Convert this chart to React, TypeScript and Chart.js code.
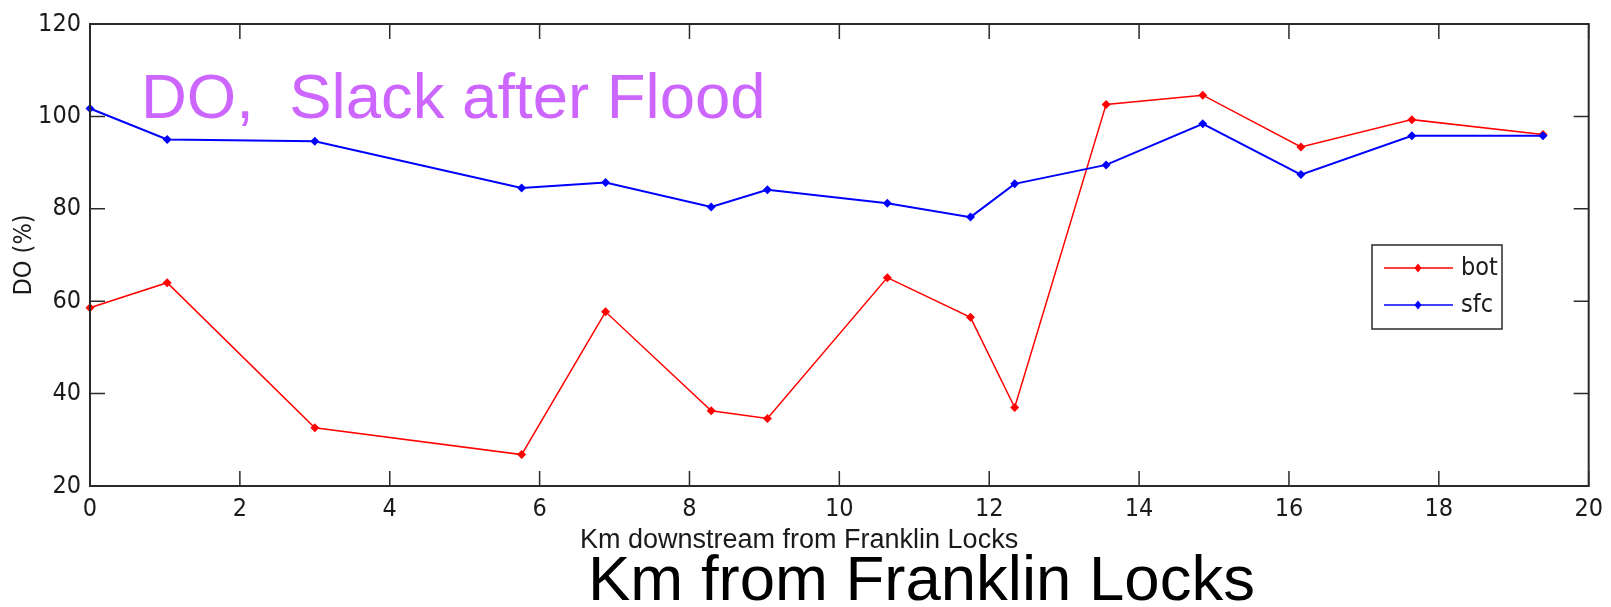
import React, { useEffect, useRef } from "react";
import { Chart, registerables } from "chart.js";

Chart.register(...registerables);

// ---- data ----
const km = [0, 1.03, 3.0, 5.76, 6.88, 8.29, 9.04, 10.64, 11.75, 12.34, 13.56, 14.85, 16.16, 17.64, 19.39];
const botDO = [58.6, 64.0, 32.6, 26.8, 57.7, 36.3, 34.6, 65.1, 56.5, 37.0, 102.6, 104.6, 93.4, 99.3, 96.1];
const sfcDO = [101.7, 95.0, 94.6, 84.5, 85.7, 80.4, 84.1, 81.2, 78.2, 85.4, 89.5, 98.4, 87.4, 95.8, 95.8];
const xTickValues = [0, 2, 4, 6, 8, 10, 12, 14, 16, 18, 20];
const yTickValues = [20, 40, 60, 80, 100, 120];
const seriesLabels = ["bot", "sfc"];
const seriesColors = ["#FF0000", "#0000FF"];
const titleText = "DO,  Slack after Flood";
const xAxisTitle = "Km downstream from Franklin Locks";
const yAxisTitle = "DO (%)";
const bigXTitle = "Km from Franklin Locks";

const NARROW = "'Liberation Sans Narrow', 'DejaVu Sans Condensed', 'Liberation Sans', sans-serif";
const SANS = "'Liberation Sans', Arial, sans-serif";
const AXIS_COLOR = "#2a2a2a";
const TEXT_COLOR = "#1a1a1a";

const decorPlugin = {
  id: "decor",
  afterDraw(chart: any) {
    const ctx: CanvasRenderingContext2D = chart.ctx;
    const { left, right, top, bottom } = chart.chartArea;
    const xs = chart.scales.x;
    const ys = chart.scales.y;
    ctx.save();

    // axes box
    ctx.strokeStyle = AXIS_COLOR;
    ctx.lineWidth = 2;
    ctx.strokeRect(left, top, right - left, bottom - top);

    // inward ticks on all four sides
    const tl = 15;
    ctx.lineWidth = 1.5;
    ctx.beginPath();
    xs.ticks.forEach((t: any) => {
      const px = xs.getPixelForValue(t.value);
      ctx.moveTo(px, bottom);
      ctx.lineTo(px, bottom - tl);
      ctx.moveTo(px, top);
      ctx.lineTo(px, top + tl);
    });
    ys.ticks.forEach((t: any) => {
      const py = ys.getPixelForValue(t.value);
      ctx.moveTo(left, py);
      ctx.lineTo(left + tl, py);
      ctx.moveTo(right, py);
      ctx.lineTo(right - tl, py);
    });
    ctx.stroke();

    // legend box
    const lx = 1372, ly = 245, lw = 130, lh = 84;
    ctx.fillStyle = "#ffffff";
    ctx.fillRect(lx, ly, lw, lh);
    ctx.strokeStyle = AXIS_COLOR;
    ctx.lineWidth = 1.5;
    ctx.strokeRect(lx, ly, lw, lh);
    const rows = [268, 305];
    chart.data.datasets.forEach((ds: any, i: number) => {
      const y = rows[i];
      ctx.strokeStyle = ds.borderColor;
      ctx.lineWidth = 1.5;
      ctx.beginPath();
      ctx.moveTo(1384, y);
      ctx.lineTo(1453, y);
      ctx.stroke();
      ctx.fillStyle = ds.borderColor;
      ctx.beginPath();
      ctx.moveTo(1418, y - 4.5);
      ctx.lineTo(1421.5, y);
      ctx.lineTo(1418, y + 4.5);
      ctx.lineTo(1414.5, y);
      ctx.closePath();
      ctx.fill();
      ctx.fillStyle = TEXT_COLOR;
      ctx.font = `25px ${NARROW}`;
      ctx.textBaseline = "middle";
      ctx.textAlign = "left";
      ctx.fillText(ds.label, 1461, y);
    });

    // x axis title (small)
    ctx.fillStyle = TEXT_COLOR;
    ctx.font = `27px ${SANS}`;
    ctx.textBaseline = "alphabetic";
    ctx.textAlign = "left";
    ctx.fillText(xAxisTitle, 580, 548);

    // big annotation title
    ctx.fillStyle = "#CC66FF";
    ctx.font = `63.5px ${SANS}`;
    ctx.fillText(titleText, 141, 118);

    // big x label
    ctx.fillStyle = "#000000";
    ctx.font = `63.5px ${SANS}`;
    ctx.fillText(bigXTitle, 588, 600);

    ctx.restore();
  },
};

export default function App() {
  const canvasRef = useRef<HTMLCanvasElement | null>(null);

  useEffect(() => {
    const canvas = canvasRef.current;
    if (!canvas) return;
    const mk = (vals: number[]) => km.map((x, i) => ({ x, y: vals[i] }));
    const chart = new Chart(canvas, {
      type: "line",
      data: {
        datasets: [
          {
            label: seriesLabels[0],
            data: mk(botDO),
            borderColor: seriesColors[0],
            backgroundColor: seriesColors[0],
            borderWidth: 1.5,
            pointStyle: "rectRot",
            pointRadius: 4.5,
            pointBorderWidth: 0,
            tension: 0,
            clip: false as any,
            order: 1,
          },
          {
            label: seriesLabels[1],
            data: mk(sfcDO),
            borderColor: seriesColors[1],
            backgroundColor: seriesColors[1],
            borderWidth: 2,
            pointStyle: "rectRot",
            pointRadius: 4.5,
            pointBorderWidth: 0,
            tension: 0,
            clip: false as any,
            order: 0,
          },
        ],
      },
      options: {
        responsive: false,
        animation: false,
        devicePixelRatio: 1,
        layout: { padding: { top: 21, right: 14, left: 0, bottom: 0 } },
        plugins: {
          legend: { display: false },
          tooltip: { enabled: false },
          title: { display: false },
        },
        scales: {
          x: {
            type: "linear",
            min: 0,
            max: 20,
            afterBuildTicks: (s: any) => {
              s.ticks = xTickValues.map((v) => ({ value: v }));
            },
            afterFit: (s: any) => {
              s.height = 121;
            },
            grid: { display: false, drawTicks: false },
            border: { display: false },
            ticks: {
              color: TEXT_COLOR,
              font: { family: NARROW, size: 25 },
              padding: 8,
              maxRotation: 0,
              autoSkip: false,
            },
          },
          y: {
            type: "linear",
            min: 20,
            max: 120,
            afterBuildTicks: (s: any) => {
              s.ticks = yTickValues.map((v) => ({ value: v }));
            },
            afterFit: (s: any) => {
              s.width = 90;
            },
            grid: { display: false, drawTicks: false },
            border: { display: false },
            ticks: {
              color: TEXT_COLOR,
              font: { family: NARROW, size: 25 },
              padding: 9,
              autoSkip: false,
            },
            title: {
              display: true,
              text: yAxisTitle,
              color: TEXT_COLOR,
              font: { family: NARROW, size: 25 },
              padding: { top: 9, bottom: 0 },
            },
          },
        },
      },
      plugins: [decorPlugin],
    });
    return () => chart.destroy();
  }, []);

  return (
    <div style={{ position: "fixed", left: 0, top: 0, width: 1611, height: 607, background: "#fff" }}>
      <canvas ref={canvasRef} width={1611} height={607} style={{ display: "block" }} />
    </div>
  );
}
